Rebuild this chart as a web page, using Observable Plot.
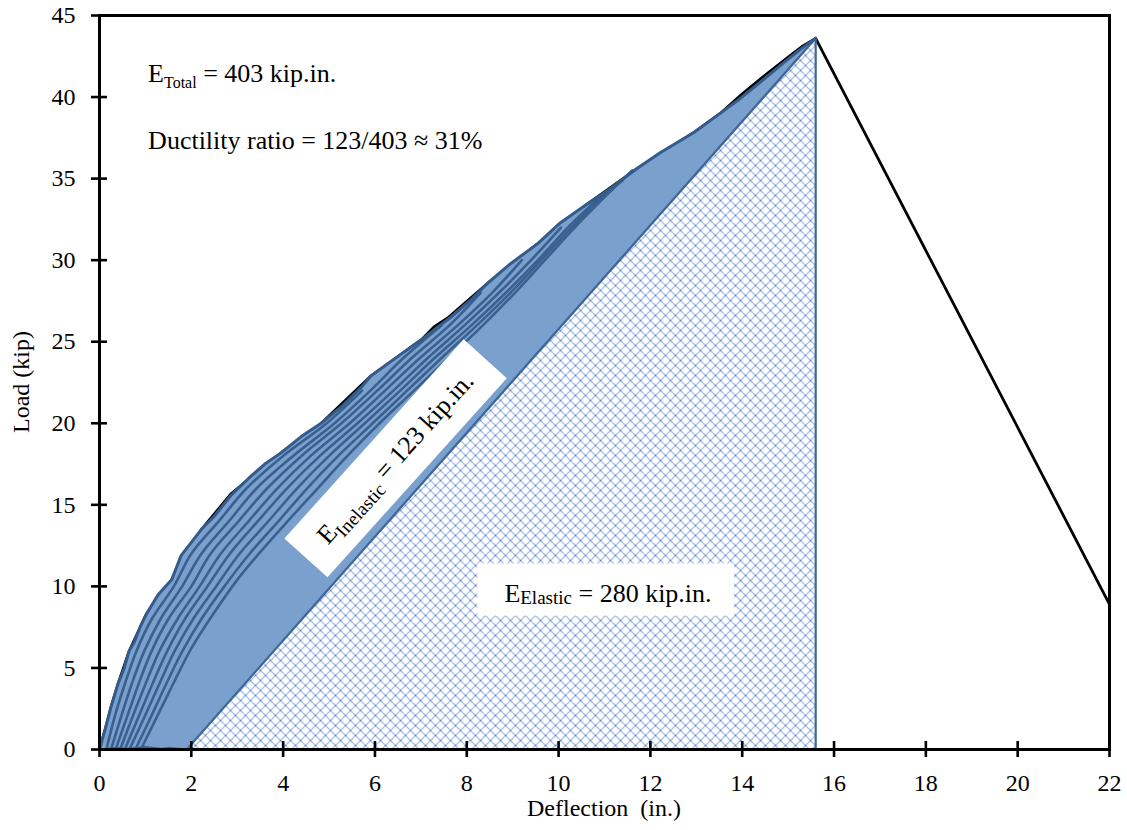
<!DOCTYPE html>
<html><head><meta charset="utf-8">
<script src="https://cdn.jsdelivr.net/npm/d3@7"></script>
<script src="https://cdn.jsdelivr.net/npm/@observablehq/plot@0.6"></script>
<style>
body{margin:0;background:#fff;}
#chart svg{font-family:"Liberation Serif","Times New Roman",serif;}
</style></head><body><div id="chart"></div>
<script>
const xTicks = [0,2,4,6,8,10,12,14,16,18,20,22];
const yTicks = [0,5,10,15,20,25,30,35,40,45];

// upper envelope of the cyclic load-deflection loops (in., kip)
const envelope = [[0,0],[0.12,1.2],[0.25,2.6],[0.4,4.0],[0.54,5.0],[0.64,6.0],[0.76,6.6],[0.9,7.6],[1.02,8.3],[1.28,9.5],[1.57,10.4],[1.78,11.9],[2.0,12.7],[2.22,13.5],[2.5,14.3],[2.87,15.6],[3.24,16.6],[3.6,17.5],[3.96,18.2],[4.4,19.2],[4.83,20.0],[5.3,21.1],[5.7,22.2],[5.91,22.9],[6.5,24.1],[7.0,25.1],[7.65,26.5],[8.1,27.6],[8.46,28.6],[8.96,29.8],[9.54,31.0],[10.04,32.3],[10.6,33.4],[11.13,34.4],[11.7,35.6],[12.22,36.6],[12.93,37.8],[13.52,39.0],[13.95,39.9],[14.39,40.9],[14.9,42.1],[15.3,43.0],[15.6,43.6]];
// base of the loops (residual deflection at zero load)
const loopBase = [[1.9,0],[1.5,0.1],[1.35,0.05],[1.0,0.15],[0.6,0.05],[0.4,0.1],[0,0]];
// monotonic backbone curve (black), hidden under the loops except at a few spots
const backbone = [[0,0],[0.12,1.2],[0.25,2.6],[0.4,4.0],[0.64,6.0],[1.02,8.3],[1.57,10.4],[2.22,13.5],[2.87,15.7],[3.96,18.2],[4.83,20.0],[5.91,22.9],[7.0,25.1],[7.3,25.95],[7.6,26.5],[8.46,28.6],[9.54,31.0],[10.6,33.4],[11.7,35.6],[12.93,37.8],[13.52,39.0],[14.0,40.2],[14.5,41.35],[15.0,42.45],[15.3,43.1],[15.6,43.6]];
// post-peak branch
const postPeak = [[15.6,43.6],[22,8.9]];
// elastic recovery triangle
const elastic = [[1.9,0],[15.6,43.6],[15.6,0]];
// individual reloading branches
const reload1 = [[0.15,0],[0.33,2],[0.55,4],[0.8,6],[1.14,8],[1.62,10],[2.0,12],[2.6,14],[3.2,16],[4.0,18],[4.95,20],[5.72,22]];
const reload2 = [[0.25,0],[0.47,2],[0.7,4],[0.97,6],[1.33,8],[1.8,10],[2.22,12],[2.82,14],[3.42,16],[4.22,18],[5.12,20],[5.9,22],[6.62,24],[7.45,26]];
const reload3 = [[0.35,0],[0.6,2],[0.85,4],[1.13,6],[1.5,8],[2.0,10],[2.42,12],[3.03,14],[3.65,16],[4.4,18],[5.27,20],[6.05,22],[6.8,24],[7.62,26],[8.3,28]];
const reload4 = [[0.45,0],[0.72,2],[1.0,4],[1.3,6],[1.7,8],[2.18,10],[2.64,12],[3.25,14],[3.87,16],[4.6,18],[5.45,20],[6.22,22],[6.98,24],[7.8,26],[8.55,28],[9.2,30]];
const reload5 = [[0.55,0],[0.85,2],[1.15,4],[1.47,6],[1.86,8],[2.35,10],[2.84,12],[3.45,14],[4.08,16],[4.8,18],[5.62,20],[6.4,22],[7.15,24],[7.95,26],[8.7,28],[9.4,30],[10.05,32]];
const reload6 = [[0.65,0],[0.98,2],[1.3,4],[1.63,6],[2.04,8],[2.54,10],[3.05,12],[3.68,14],[4.3,16],[5.0,18],[5.78,20],[6.55,22],[7.3,24],[8.1,26],[8.85,28],[9.55,30],[10.2,32],[10.95,34]];
const reload7 = [[0.78,0],[1.12,2],[1.45,4],[1.8,6],[2.22,8],[2.72,10],[3.27,12],[3.9,14],[4.52,16],[5.2,18],[5.95,20],[6.7,22],[7.45,24],[8.22,26],[8.95,28],[9.62,30],[10.28,32],[11.0,34],[11.4,34.9]];
const reload8 = [[0.9,0],[1.25,2],[1.6,4],[2.0,6.2],[2.5,8.4],[3.0,10.4],[3.5,12.1],[4.1,14],[4.75,16],[5.4,18],[6.1,20],[6.85,22],[7.6,24],[8.35,26],[9.05,28],[9.7,30],[10.35,32],[11.05,34],[11.6,35.5]];
const reloads = [reload1,reload2,reload3,reload4,reload5,reload6,reload7,reload8];

const loopFill = envelope.concat([[1.9,0]], loopBase);
const FONT = "Liberation Serif, Times New Roman, serif";

const plot = Plot.plot({
  width: 1127, height: 830,
  marginLeft: 99, marginRight: 18, marginTop: 15, marginBottom: 81,
  style: {fontFamily: FONT, background: "white", color: "black"},
  x: {domain: [0,22]},
  y: {domain: [0,45]},
  marks: [
    Plot.line(backbone, {x: d => d[0], y: d => d[1], stroke: "black", strokeWidth: 2.6}),
    Plot.line(postPeak, {x: d => d[0], y: d => d[1], stroke: "black", strokeWidth: 2.8}),
    Plot.line(loopFill, {x: d => d[0], y: d => d[1], fill: "#7aa0cd", stroke: "none"}),
    Plot.line(elastic, {x: d => d[0], y: d => d[1], fill: "url(#hatch)", stroke: "#3e6797", strokeWidth: 2.2, curve: "linear-closed"}),
    ...reloads.map(r => Plot.line(r, {x: d => d[0], y: d => d[1], stroke: "#3a6090", strokeWidth: 2.6, curve: "catmull-rom"})),
    Plot.line(loopBase, {x: d => d[0], y: d => d[1], stroke: "#3b6190", strokeWidth: 2}),
    Plot.line(envelope, {x: d => d[0], y: d => d[1], stroke: "#335b8b", strokeWidth: 3}),
    Plot.frame({stroke: "black", strokeWidth: 3}),
    Plot.axisX(xTicks, {tickSize: 8, tickPadding: 16, fontSize: 24, fontFamily: FONT, strokeWidth: 2.6, label: null}),
    Plot.axisY(yTicks, {tickSize: 8, tickPadding: 16, fontSize: 24, fontFamily: FONT, strokeWidth: 2.6, label: null})
  ]
});
document.getElementById("chart").appendChild(plot);

const svg = d3.select(plot);
const sx = v => plot.scale("x").apply(v);
const sy = v => plot.scale("y").apply(v);

// hatch pattern (diagonal lattice)
const defs = svg.insert("defs", ":first-child");
const P = 10;
const pat = defs.append("pattern").attr("id", "hatch").attr("patternUnits", "userSpaceOnUse")
  .attr("width", P).attr("height", P);
pat.append("rect").attr("width", P).attr("height", P).attr("fill", "white");
pat.append("path").attr("d", `M-1,-1L${P+1},${P+1}M${P+1},-1L-1,${P+1}`)
  .attr("stroke", "#4472c4").attr("stroke-width", 0.85).attr("fill", "none");

// crossing ticks
svg.selectAll('[aria-label="x-axis tick"] path').attr("d", "M0,-8L0,8");
svg.selectAll('[aria-label="y-axis tick"] path').attr("d", "M-8,0L8,0");

const ann = svg.append("g").attr("font-family", FONT).attr("fill", "black").attr("text-anchor", "start");

// E_Total
let t = ann.append("text").attr("x", sx(1.07)).attr("y", sy(40.9)).attr("font-size", 26);
t.append("tspan").text("E");
t.append("tspan").attr("font-size", 16).attr("dy", 6).text("Total");
t.append("tspan").attr("dy", -6).text(" = 403 kip.in.");

ann.append("text").attr("x", sx(1.07)).attr("y", sy(36.8)).attr("font-size", 26)
  .text("Ductility ratio = 123/403 \u2248 31%");

// E_Elastic box
ann.append("rect").attr("x", sx(8.24)).attr("y", sy(11.37))
  .attr("width", sx(13.83) - sx(8.24)).attr("height", sy(8.17) - sy(11.37)).attr("fill", "white");
t = ann.append("text").attr("x", sx(8.83)).attr("y", sy(9.03)).attr("font-size", 26);
t.append("tspan").text("E");
t.append("tspan").attr("font-size", 19).attr("dy", 2).text("Elastic");
t.append("tspan").attr("dy", -2).text(" = 280 kip.in.");

// E_Inelastic rotated box
const g = ann.append("g").attr("transform", `translate(${sx(6.46)},${sy(17.82)}) rotate(-48)`);
g.append("rect").attr("x", -134).attr("y", -29).attr("width", 268).attr("height", 58).attr("fill", "white");
t = g.append("text").attr("x", 0).attr("y", 8).attr("font-size", 26).attr("text-anchor", "middle");
t.append("tspan").text("E");
t.append("tspan").attr("font-size", 19).attr("dy", 7).text("Inelastic");
t.append("tspan").attr("dy", -7).text(" = 123 kip.in.");

// axis labels
ann.append("text").attr("transform", `translate(29,${(sy(0)+sy(45))/2}) rotate(-90)`)
  .attr("text-anchor", "middle").attr("font-size", 24).text("Load (kip)");
ann.append("text").attr("x", (sx(0)+sx(22))/2).attr("y", 816)
  .attr("text-anchor", "middle").attr("font-size", 24).attr("xml:space", "preserve").text("Deflection  (in.)");
</script></body></html>
